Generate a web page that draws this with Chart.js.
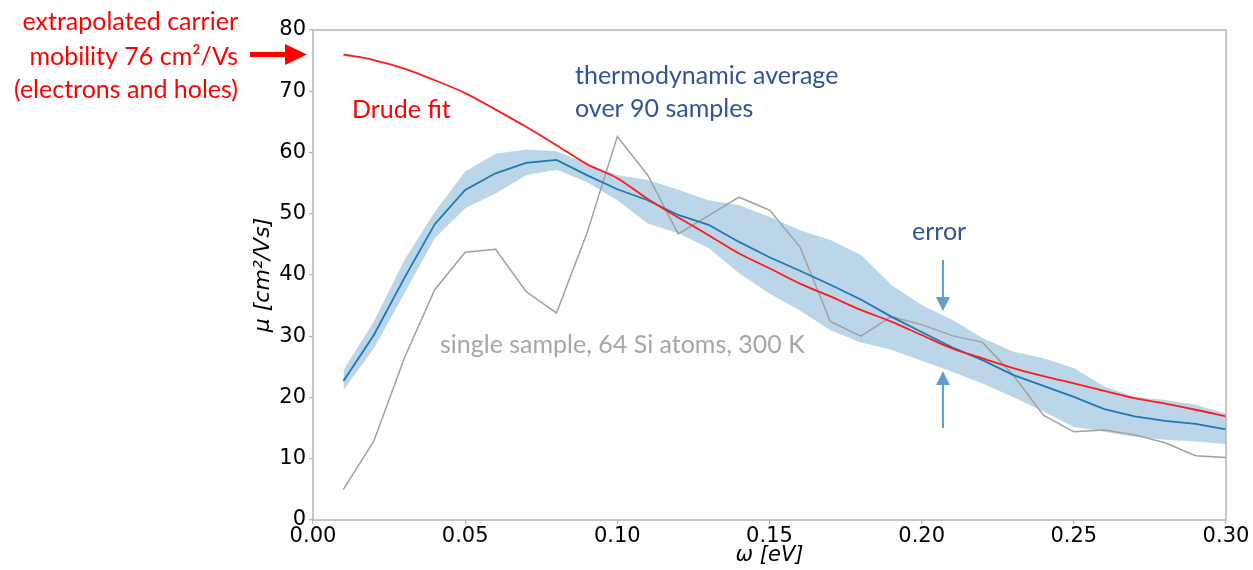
<!DOCTYPE html>
<html>
<head>
<meta charset="utf-8">
<script src="https://cdn.jsdelivr.net/npm/chart.js@4"></script>
<style>
  html, body { margin: 0; padding: 0; background: #fff; }
  #wrap { width: 1253px; height: 570px; }
</style>
</head>
<body>
<div id="wrap"><canvas id="chart" width="1253" height="570"></canvas></div>
<script>
// omega [eV]
const omega = [0.01, 0.02, 0.03, 0.04, 0.05, 0.06, 0.07, 0.08, 0.09, 0.10,
  0.11, 0.12, 0.13, 0.14, 0.15, 0.16, 0.17, 0.18, 0.19, 0.20,
  0.21, 0.22, 0.23, 0.24, 0.25, 0.26, 0.27, 0.28, 0.29, 0.30];

// thermodynamic average over 90 samples
const meanMu = [22.7, 30.2, 39.5, 48.3, 53.9, 56.6, 58.3, 58.8, 56.3, 54.0,
  52.2, 49.8, 48.2, 45.4, 42.9, 40.7, 38.4, 36.0, 33.2, 30.7,
  28.2, 26.1, 23.7, 21.9, 20.1, 18.1, 16.9, 16.2, 15.7, 14.8];
const errUpper = [24.5, 32.4, 42.4, 50.3, 56.9, 59.8, 60.5, 60.2, 58.2, 56.3,
  55.5, 53.9, 52.2, 51.4, 49.5, 47.3, 45.7, 43.3, 38.4, 35.1,
  32.7, 29.7, 27.5, 26.4, 24.8, 21.8, 20.1, 19.6, 18.8, 17.4];
const errLower = [21.2, 28.0, 37.0, 46.0, 50.9, 53.3, 56.3, 57.2, 55.2, 52.2,
  48.4, 46.8, 44.4, 40.3, 37.0, 34.2, 31.0, 29.0, 27.8, 26.0,
  24.2, 22.3, 20.1, 17.7, 15.2, 14.4, 13.6, 13.1, 12.8, 12.4];

// single sample, 64 Si atoms, 300 K
const singleMu = [5.0, 12.9, 26.4, 37.6, 43.7, 44.2, 37.3, 33.8, 46.8, 62.6,
  56.3, 46.7, 49.7, 52.7, 50.6, 44.6, 32.4, 30.0, 33.2, 31.9,
  30.1, 29.0, 23.7, 17.1, 14.4, 14.7, 13.9, 12.6, 10.5, 10.2];

// Drude fit
const drudeMu = [76.0, 75.1, 73.7, 71.8, 69.7, 67.0, 64.2, 61.2, 58.1, 55.8,
  52.4, 49.4, 46.5, 43.5, 41.1, 38.6, 36.5, 34.3, 32.4, 30.2,
  28.0, 26.4, 24.8, 23.5, 22.3, 21.1, 19.9, 19.0, 18.0, 16.9];

const xTicks = [0, 0.05, 0.10, 0.15, 0.20, 0.25, 0.30];
const yTicks = [0, 10, 20, 30, 40, 50, 60, 70, 80];

const extrapolated = 76;
const errorArrowX = 0.207;

const pts = (ys) => omega.map((x, i) => ({ x, y: ys[i] }));

const TEXT_FONT = "Lato, 'Open Sans', sans-serif";
const AXIS_FONT = "'DejaVu Sans', sans-serif";
const SPINE = "#b4b4b4";

function arrow(ctx, x0, y0, x1, y1, color, shaftW, headW, headL) {
  const ang = Math.atan2(y1 - y0, x1 - x0);
  const len = Math.hypot(x1 - x0, y1 - y0);
  ctx.save();
  ctx.translate(x0, y0);
  ctx.rotate(ang);
  ctx.fillStyle = color;
  ctx.fillRect(0, -shaftW / 2, len - headL + 1, shaftW);
  ctx.beginPath();
  ctx.moveTo(len, 0);
  ctx.lineTo(len - headL, -headW / 2);
  ctx.lineTo(len - headL, headW / 2);
  ctx.closePath();
  ctx.fill();
  ctx.restore();
}

const annotations = {
  id: "annotations",
  afterDatasetsDraw(chart) {
    const { ctx, chartArea: a } = chart;
    // frame (all four spines)
    ctx.save();
    ctx.strokeStyle = SPINE;
    ctx.lineWidth = 1.5;
    ctx.strokeRect(a.left, a.top, a.right - a.left, a.bottom - a.top);
    ctx.restore();
  },
  afterDraw(chart) {
    const { ctx, chartArea: a, scales } = chart;
    const xs = scales.x, ys = scales.y;
    ctx.save();
    ctx.textBaseline = "middle";

    // left note + red arrow
    ctx.fillStyle = "#ff0000";
    ctx.font = "25px " + TEXT_FONT;
    ctx.textAlign = "right";
    ctx.fillText("extrapolated carrier", 238, 22);
    ctx.fillText("mobility 76 cm\u00b2/Vs", 238, 57);
    ctx.fillText("(electrons and holes)", 238, 90);
    const ya = ys.getPixelForValue(extrapolated);
    arrow(ctx, 250, ya, a.left - 6, ya, "#ff0000", 5, 21, 22);

    ctx.textAlign = "left";
    ctx.fillText("Drude fit", 352, 110);

    ctx.fillStyle = "#2f5597";
    ctx.fillText("thermodynamic average", 575, 76);
    ctx.fillText("over 90 samples", 575, 109);
    ctx.fillText("error", 912, 232);

    ctx.fillStyle = "#a6a6a6";
    ctx.fillText("single sample, 64 Si atoms, 300 K", 440, 345);

    // error arrows
    const ex = xs.getPixelForValue(errorArrowX);
    arrow(ctx, ex, 260, ex, 311, "#5f9fce", 2, 14, 14);
    arrow(ctx, ex, 428, ex, 371, "#5f9fce", 2, 14, 14);
    ctx.restore();
  }
};

new Chart(document.getElementById("chart"), {
  type: "line",
  data: {
    datasets: [
      {
        label: "upper",
        data: pts(errUpper),
        borderWidth: 0,
        pointRadius: 0,
        backgroundColor: "rgba(31,119,180,0.3)",
        fill: "+1",
        order: 5
      },
      {
        label: "lower",
        data: pts(errLower),
        borderWidth: 0,
        pointRadius: 0,
        fill: false,
        order: 5
      },
      {
        label: "single sample",
        data: pts(singleMu),
        borderColor: "#a0a0a0",
        borderWidth: 1.5,
        pointRadius: 0,
        fill: false,
        order: 3
      },
      {
        label: "thermodynamic average",
        data: pts(meanMu),
        borderColor: "#1f77b4",
        borderWidth: 1.8,
        pointRadius: 0,
        fill: false,
        order: 2
      },
      {
        label: "Drude fit",
        data: pts(drudeMu),
        borderColor: "#ff1a1a",
        borderWidth: 1.8,
        pointRadius: 0,
        cubicInterpolationMode: "monotone",
        fill: false,
        order: 1
      }
    ]
  },
  options: {
    responsive: false,
    animation: false,
    layout: { padding: { left: 250, right: 27, top: 30, bottom: 0 } },
    plugins: {
      legend: { display: false },
      tooltip: { enabled: false }
    },
    scales: {
      x: {
        type: "linear",
        min: 0,
        max: 0.3,
        afterBuildTicks(scale) { scale.ticks = xTicks.map((v) => ({ value: v })); },
        afterFit(scale) { scale.height = 50; },
        ticks: {
          color: "#000",
          font: { family: AXIS_FONT, size: 21 },
          padding: 0,
          maxRotation: 0,
          callback: (v) => Number(v).toFixed(2)
        },
        grid: { drawOnChartArea: false, drawTicks: true, tickLength: 4, color: SPINE, lineWidth: 1.2 },
        border: { display: false },
        title: {
          display: true,
          text: "\u03c9 [eV]",
          color: "#000",
          font: { family: AXIS_FONT, size: 21, style: "italic" },
          padding: { top: 0, bottom: 2 }
        }
      },
      y: {
        min: 0,
        max: 80,
        afterBuildTicks(scale) { scale.ticks = yTicks.map((v) => ({ value: v })); },
        afterFit(scale) { scale.width = 63; },
        ticks: {
          color: "#000",
          font: { family: AXIS_FONT, size: 21 },
          padding: 3
        },
        grid: { drawOnChartArea: false, drawTicks: true, tickLength: 4, color: SPINE, lineWidth: 1.2 },
        border: { display: false },
        title: {
          display: true,
          text: "\u03bc [cm\u00b2/Vs]",
          color: "#000",
          font: { family: AXIS_FONT, size: 22, style: "italic" },
          padding: { top: 0, bottom: 0 }
        }
      }
    }
  },
  plugins: [annotations]
});
</script>
</body>
</html>
